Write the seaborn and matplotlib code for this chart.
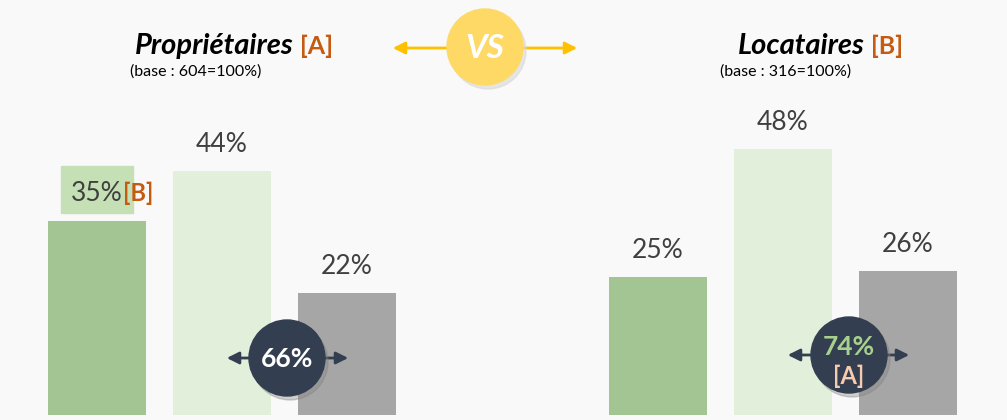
import matplotlib
matplotlib.use("Agg")
import matplotlib.pyplot as plt
from matplotlib.patches import Circle, Rectangle
import seaborn as sns

# ------------------------------------------------------
# Data
# ------------------------------------------------------
categories = ["c1", "c2", "c3"]
groups = ["Propriétaires", "Locataires"]
group_tags = ["[A]", "[B]"]
bases = [604, 316]
vals_a = [35, 44, 22]
vals_b = [25, 48, 26]
highlight_a = {0: "[B]"}          # significant vs other group
circle_tag_b = "[A]"

bar_colors = ["#a2c593", "#e2efda", "#a6a6a6"]
orange = "#c55a11"
navy = "#333f50"
txt = "#404040"

sns.set_theme(style="white")
plt.rcParams["font.family"] = ["Lato", "DejaVu Sans"]

W, H = 1007, 420
fig = plt.figure(figsize=(W / 100, H / 100), dpi=100)
fig.patch.set_facecolor("#f9f9f9")

px_per_pct = 5.54
baseline = 415
ymax = baseline / px_per_pct


def bar_panel(left_px, vals):
    ax = fig.add_axes([left_px / W, (H - baseline) / H, 375 / W, baseline / H])
    sns.barplot(x=categories, y=vals, hue=categories, palette=bar_colors,
                width=0.784, legend=False, ax=ax, saturation=1, linewidth=0)
    ax.set_xlim(-0.5, 2.5)
    ax.set_ylim(0, ymax)
    ax.axis("off")
    ax.patch.set_alpha(0)
    return ax


ax_a = bar_panel(34.5, vals_a)
ax_b = bar_panel(595.5, vals_b)

for ax, vals, hl in [(ax_a, vals_a, highlight_a), (ax_b, vals_b, {})]:
    for i, v in enumerate(vals):
        if i in hl:
            ax.add_patch(Rectangle((i - 0.288, v + 1.5), 0.576, 8.4,
                                   color="#c5e0b4", zorder=1))
            ax.text(i, v + 3.6, f"{v}%", ha="center", va="baseline",
                    fontsize=19, color=txt, zorder=3)
            ax.text(i + 0.21, v + 3.6, hl[i], ha="left", va="baseline",
                    fontsize=17, color=orange, fontweight="bold", zorder=3)
        else:
            ax.text(i, v + 3.4, f"{v}%", ha="center", va="baseline",
                    fontsize=19, color=txt)

# ------------------------------------------------------
# Overlay in pixel coordinates for titles and badges
# ------------------------------------------------------
ov = fig.add_axes([0, 0, 1, 1], zorder=10)
ov.set_xlim(0, W)
ov.set_ylim(H, 0)
ov.axis("off")
ov.patch.set_alpha(0)

title_pos = [(294, 196), (865, 786)]
for (xr, xc), name, tag, base in zip(title_pos, groups, group_tags, bases):
    ov.text(xr, 54, name, ha="right", va="baseline", fontsize=21,
            fontweight="bold", fontstyle="italic", color="black")
    ov.text(xr + 6, 54, tag, ha="left", va="baseline", fontsize=18,
            fontweight="bold", color=orange)
    ov.text(xc, 72, f"(base : {base}=100%)", ha="center", va="center",
            fontsize=11.5, color="black")

# VS badge
ov.annotate("", xy=(390, 48), xytext=(580, 48), zorder=1,
            arrowprops=dict(arrowstyle="<|-|>", color="#ffc000", lw=2,
                            mutation_scale=18))
ov.add_patch(Circle((488, 51), 38, color="#d8d8d8", alpha=0.6, zorder=4))
ov.add_patch(Circle((485, 47), 38, color="#ffd966", zorder=5))
ov.text(485, 48, "VS", ha="center", va="center", fontsize=24, zorder=6,
        fontweight="bold", fontstyle="italic", color="white")


def total_badge(cx, cy, x0, x1, total, tag=None):
    ov.annotate("", xy=(x0, cy), xytext=(x1, cy), zorder=1,
                arrowprops=dict(arrowstyle="<|-|>", color=navy, lw=2,
                                mutation_scale=18))
    ov.add_patch(Circle((cx + 3, cy + 4), 38, color="#7f7f7f", alpha=0.35,
                        zorder=4))
    ov.add_patch(Circle((cx, cy), 38, color=navy, zorder=5))
    if tag is None:
        ov.text(cx, cy + 1, f"{total}%", ha="center", va="center", zorder=6,
                fontsize=19, fontweight="bold", color="white")
    else:
        ov.text(cx, cy - 8, f"{total}%", ha="center", va="center", zorder=6,
                fontsize=19, fontweight="bold", color="#a9d18e")
        ov.text(cx, cy + 21, tag, ha="center", va="center", zorder=6,
                fontsize=17, fontweight="bold", color="#f8cbad")


total_badge(287, 358, 224, 351, vals_a[1] + vals_a[2])
total_badge(849, 355, 785, 912, vals_b[1] + vals_b[2], circle_tag_b)

fig.savefig("out.png", dpi=100, facecolor=fig.get_facecolor())
